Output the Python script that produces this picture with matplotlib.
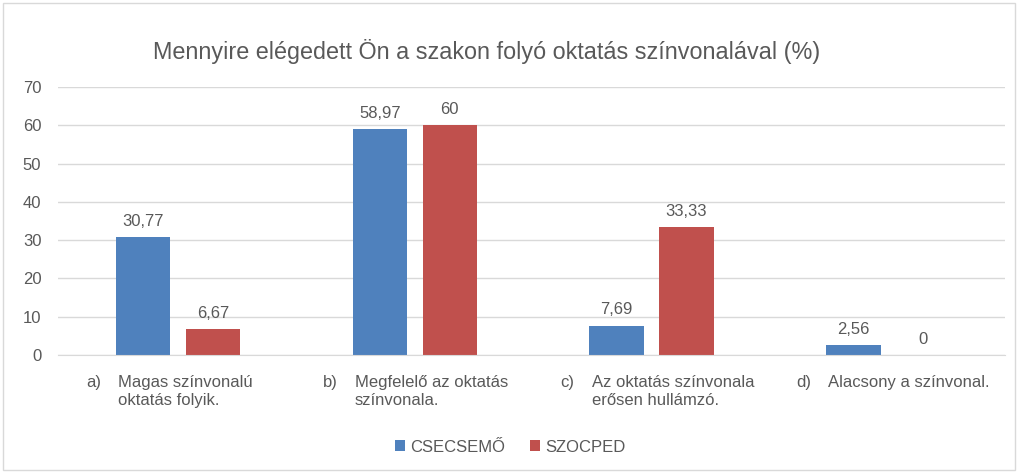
import matplotlib.pyplot as plt
import matplotlib.patches as patches
import numpy as np

plt.rcParams['font.family'] = ['Liberation Sans Narrow', 'Liberation Sans', 'DejaVu Sans']

letters = ['a)', 'b)', 'c)', 'd)']
bodies = ['Magas színvonalú\noktatás folyik.',
          'Megfelelő az oktatás\nszínvonala.',
          'Az oktatás színvonala\nerősen hullámzó.',
          'Alacsony a színvonal.']
csecsemo = [30.77, 58.97, 7.69, 2.56]
szocped = [6.67, 60, 33.33, 0]
series_names = ['CSECSEMŐ', 'SZOCPED']
colors = ['#4f81bd', '#c0504d']
grey = '#595959'


def fmt(v):
    s = f"{v:.2f}".rstrip('0').rstrip('.')
    return s.replace('.', ',')


def main():
    fig = plt.figure(figsize=(10.18, 4.73), dpi=100)
    ax = fig.add_axes([0.057, 0.2495, 0.93, 0.5666])
    x = np.arange(len(letters))
    w = 0.23
    b1 = ax.bar(x - 0.14, csecsemo, w, color=colors[0], label=series_names[0])
    b2 = ax.bar(x + 0.155, szocped, w, color=colors[1], label=series_names[1])
    for bars, vals in ((b1, csecsemo), (b2, szocped)):
        for r, v in zip(bars, vals):
            ax.text(r.get_x() + r.get_width() / 2, v + 2.2, fmt(v), ha='center', va='bottom',
                    fontsize=12, color=grey)

    ax.set_xlim(-0.5, len(letters) - 0.5)
    ax.set_ylim(0, 70)
    ax.set_yticks(range(0, 71, 10))
    ax.tick_params(axis='y', length=0, labelsize=12, labelcolor=grey, pad=12)
    ax.set_xticks([])
    ax.grid(axis='y', color='#d9d9d9', linewidth=1)
    ax.set_axisbelow(True)
    for s in ['top', 'right', 'left']:
        ax.spines[s].set_visible(False)
    ax.spines['bottom'].set_color('#d9d9d9')

    tr = ax.get_xaxis_transform()
    for i in x:
        ax.text(i - 0.38, -0.075, letters[i], transform=tr, ha='left', va='top', fontsize=12, color=grey)
        ax.text(i - 0.245, -0.075, bodies[i], transform=tr, ha='left', va='top', fontsize=12,
                color=grey, linespacing=1.25)

    fig.text(487 / 1018, 1 - 52 / 473, 'Mennyire elégedett Ön a szakon folyó oktatás színvonalával (%)',
             ha='center', va='center', fontsize=16.8, color=grey)

    fig.legend(loc='center', bbox_to_anchor=(510 / 1018, 1 - 447 / 473), ncol=2, frameon=False,
               fontsize=12, handlelength=0.6, handleheight=0.6, columnspacing=1.5, handletextpad=0.3,
               labelcolor=grey)

    fig.patches.append(patches.Rectangle((0.003, 0.006), 0.994, 0.988, transform=fig.transFigure,
                                         fill=False, edgecolor='#d9d9d9', linewidth=1))
    fig.savefig('out.png', dpi=100)


if __name__ == '__main__':
    main()
